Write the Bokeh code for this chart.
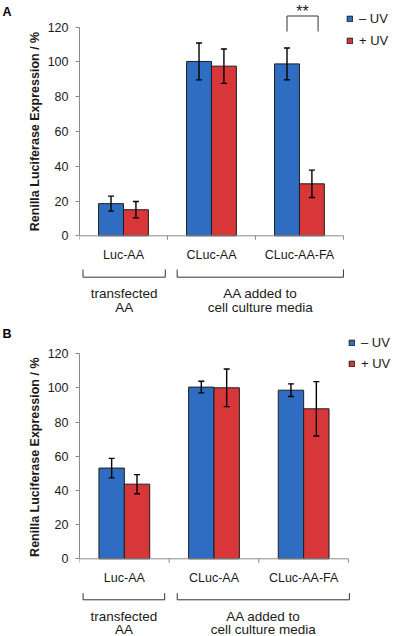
import math
from bokeh.plotting import figure
from bokeh.models import (ColumnDataSource, FixedTicker, Whisker, TeeHead,
                          Legend, LegendItem, Range1d)
from bokeh.layouts import column, row
from bokeh.embed import file_html
from bokeh.resources import INLINE
from bokeh.core.properties import value

# ---------------- data ----------------
categories = ["Luc-AA", "CLuc-AA", "CLuc-AA-FA"]
series_names = ["\u2013 UV", "+ UV"]
y_ticks = [0, 20, 40, 60, 80, 100, 120]
y_title = "Renilla Luciferase Expression / %"
group_line1 = ["transfected", "AA added to"]
group_line2 = ["AA", "cell culture media"]
group_start = [0, 1]   # first category index of each group
group_end = [1, 3]     # end (exclusive) category index of each group

a_minus = [18.5, 100.3, 98.9]
a_minus_err = [4.3, 10.6, 9.1]
a_plus = [15.0, 97.6, 29.9]
a_plus_err = [4.7, 9.9, 7.9]

b_minus = [53.1, 100.5, 98.7]
b_minus_err = [5.7, 3.4, 3.7]
b_plus = [43.7, 100.1, 87.8]
b_plus_err = [5.6, 11.0, 15.9]

sig_category = 2
sig_text = "**"

# ---------------- style / layout ----------------
FONT = "Liberation Sans"
BLUE = "#2f6dc2"
RED = "#d8373a"
EDGE = "#1e1e1e"
AXIS = "#8a8a8a"
TXT = "#1a1a1a"
W = 400
SIDE_W = 44
BAR_W = 0.283

GEOM = {
    "A": dict(height=318, left=33, xscale=88.53, y0=235.3, yscale=1.7383,
              cat_mid=254.5, br_top=269.0, br_bot=276.7, g1=292.7, g2=307.0,
              inset_l=[0.04, 0.11], inset_r=[0.025, 0.0],
              leg=(267.0, 269.8), leg_spacing=7,
              letter_mid=11.0, title_x=34.5, title_y=131.0),
    "B": dict(height=318, left=32, xscale=90.5, y0=240.3, yscale=1.7083,
              cat_mid=259.5, br_top=274.7, br_bot=281.3, g1=297.6, g2=311.0,
              inset_l=[0.04, 0.09], inset_r=[0.05, -0.01],
              leg=(269.0, 265.2), leg_spacing=6,
              letter_mid=15.5, title_x=34.8, title_y=138.7),
}


def side_panel(letter):
    g = GEOM[letter]
    H = g["height"]
    s = figure(width=SIDE_W, height=H, title=None, x_range=Range1d(0, SIDE_W),
               y_range=Range1d(H, 0), x_axis_location=None, y_axis_location=None,
               output_backend="svg", toolbar_location=None,
               min_border_left=0, min_border_right=0, min_border_top=0,
               min_border_bottom=0)
    s.outline_line_color = None
    s.grid.visible = False
    s.text(x=[g["title_x"]], y=[g["title_y"]], text=[y_title], angle=math.pi / 2,
           text_font=value(FONT), text_font_size="12.5px", text_font_style="bold",
           text_color=TXT, text_align="center", text_baseline="middle")
    s.text(x=[2.0], y=[g["letter_mid"]], text=[letter],
           text_font=value(FONT), text_font_size="12.5px", text_font_style="bold",
           text_color="black", text_align="left", text_baseline="middle")
    return s


def make_panel(letter, minus, minus_err, plus, plus_err, sig=False):
    g = GEOM[letter]
    H, L, xs, y0, ys = g["height"], g["left"], g["xscale"], g["y0"], g["yscale"]
    PW = W - SIDE_W

    def Y(px):
        return (y0 - px) / ys

    p = figure(width=PW, height=H, title=None,
               x_range=Range1d(0, (PW - L) / xs), y_range=Range1d(Y(H), Y(0)),
               x_axis_location=None, output_backend="svg", toolbar_location=None,
               min_border_left=L, min_border_right=0, min_border_top=0,
               min_border_bottom=0)
    p.outline_line_color = None
    p.grid.visible = False

    ax = p.yaxis[0]
    ax.ticker = FixedTicker(ticks=y_ticks)
    ax.bounds = (min(y_ticks), max(y_ticks))
    ax.axis_line_color = AXIS
    ax.major_tick_line_color = AXIS
    ax.major_tick_out = 4
    ax.major_tick_in = 0
    ax.minor_tick_line_color = None
    ax.major_label_standoff = 7
    ax.major_label_text_font = FONT
    ax.major_label_text_font_size = "12.5px"
    ax.major_label_text_color = TXT

    n = len(categories)
    centers = [i + 0.5 for i in range(n)]
    src = ColumnDataSource(dict(
        xm=[c - BAR_W / 2 for c in centers], xp=[c + BAR_W / 2 for c in centers],
        m=minus, p=plus,
        m_up=[v + e for v, e in zip(minus, minus_err)],
        m_lo=[v - e for v, e in zip(minus, minus_err)],
        p_up=[v + e for v, e in zip(plus, plus_err)],
        p_lo=[v - e for v, e in zip(plus, plus_err)],
    ))
    r1 = p.vbar(x="xm", top="m", bottom=0, width=BAR_W, source=src,
                fill_color=BLUE, line_color=EDGE, line_width=1)
    r2 = p.vbar(x="xp", top="p", bottom=0, width=BAR_W, source=src,
                fill_color=RED, line_color=EDGE, line_width=1)

    for base, up, lo in (("xm", "m_up", "m_lo"), ("xp", "p_up", "p_lo")):
        w = Whisker(base=base, upper=up, lower=lo, source=src, level="overlay",
                    line_color="black", line_width=1.4,
                    upper_head=TeeHead(size=6, line_color="black", line_width=1.4),
                    lower_head=TeeHead(size=6, line_color="black", line_width=1.4))
        p.add_layout(w)

    # x baseline and ticks at category boundaries
    p.segment(x0=[0], y0=[0], x1=[n], y1=[0], line_color=AXIS, line_width=1)
    p.segment(x0=list(range(n + 1)), y0=[0] * (n + 1), x1=list(range(n + 1)),
              y1=[Y(y0 + 4)] * (n + 1), line_color=AXIS, line_width=1)

    # category labels
    p.text(x=centers, y=[Y(g["cat_mid"])] * n, text=categories,
           text_font=value(FONT), text_font_size="12.5px", text_color=TXT,
           text_align="center", text_baseline="middle")

    # group brackets
    xs_list, ys_list = [], []
    top, bot = Y(g["br_top"]), Y(g["br_bot"])
    for k in range(len(group_start)):
        a = group_start[k] + g["inset_l"][k]
        b = group_end[k] - g["inset_r"][k]
        xs_list.append([a, a, b, b])
        ys_list.append([top, bot, bot, top])
    p.multi_line(xs=xs_list, ys=ys_list, line_color="#333333", line_width=1)

    gc = [(group_start[k] + g["inset_l"][k] + group_end[k] - g["inset_r"][k]) / 2
          for k in range(len(group_start))]
    p.text(x=gc, y=[Y(g["g1"])] * len(gc), text=group_line1,
           text_font=value(FONT), text_font_size="13.5px", text_color=TXT,
           text_align="center", text_baseline="middle")
    p.text(x=gc, y=[Y(g["g2"])] * len(gc), text=group_line2,
           text_font=value(FONT), text_font_size="13.5px", text_color=TXT,
           text_align="center", text_baseline="middle")

    # significance bracket
    if sig:
        xl = centers[sig_category] - BAR_W / 2
        xr = centers[sig_category] + BAR_W / 2 + 0.07
        ytop = Y(15.5)
        ybot = Y(31.0)
        p.multi_line(xs=[[xl, xl, xr, xr]], ys=[[ybot, ytop, ytop, ybot]],
                     line_color="#333333", line_width=1)
        p.text(x=[(xl + xr) / 2], y=[Y(11.2)], text=[sig_text],
               text_font=value(FONT), text_font_size="16px", text_color=TXT,
               text_align="center", text_baseline="middle")

    legend = Legend(items=[LegendItem(label=series_names[0], renderers=[r1]),
                           LegendItem(label=series_names[1], renderers=[r2])],
                    location=g["leg"], orientation="vertical",
                    border_line_color=None, background_fill_alpha=0,
                    padding=0, margin=0, spacing=g["leg_spacing"],
                    glyph_width=7, glyph_height=7, label_height=15,
                    label_standoff=6, label_text_font=FONT,
                    label_text_font_size="13px", label_text_color=TXT)
    p.add_layout(legend)
    return p


pa = make_panel("A", a_minus, a_minus_err, a_plus, a_plus_err, sig=True)
pb = make_panel("B", b_minus, b_minus_err, b_plus, b_plus_err)

layout = column(row(side_panel("A"), pa, spacing=0),
                row(side_panel("B"), pb, spacing=0), spacing=0)
open("out.html", "w").write(file_html(layout, INLINE))
